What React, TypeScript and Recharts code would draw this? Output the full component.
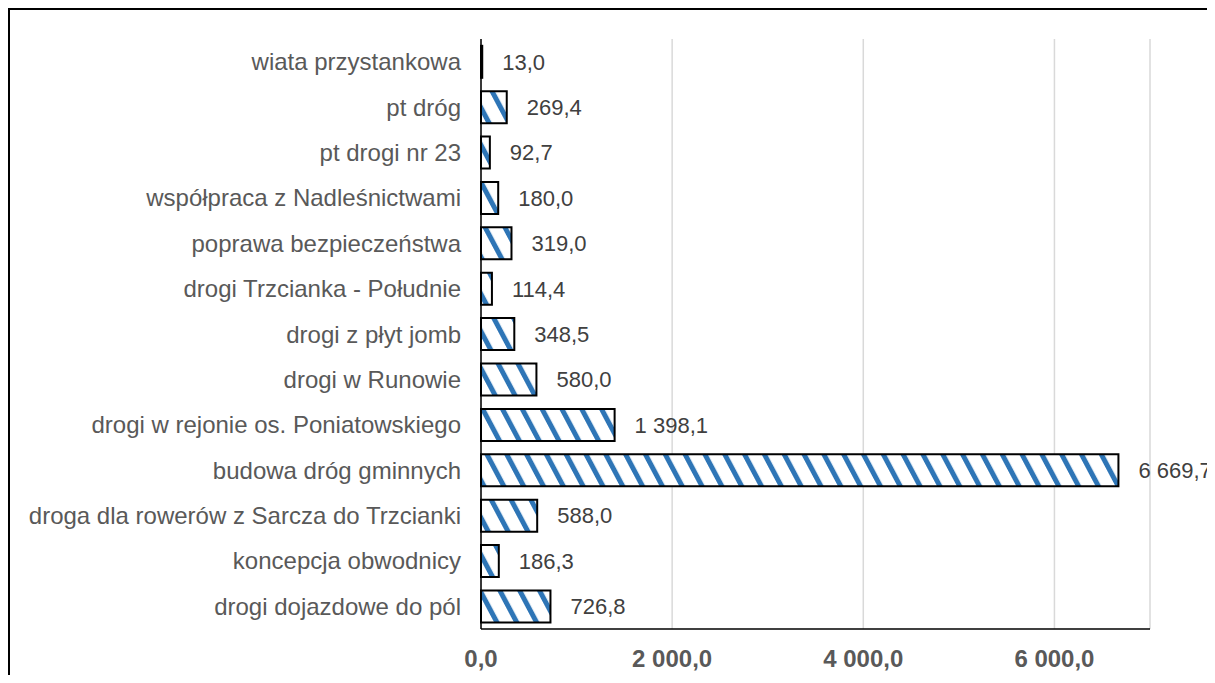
import {
  BarChart,
  Bar,
  XAxis,
  YAxis,
  CartesianGrid,
  LabelList,
} from 'recharts';

const categories = [
  'wiata przystankowa',
  'pt dróg',
  'pt drogi nr 23',
  'współpraca z Nadleśnictwami',
  'poprawa bezpieczeństwa',
  'drogi Trzcianka - Południe',
  'drogi z płyt jomb',
  'drogi w Runowie',
  'drogi w rejonie os. Poniatowskiego',
  'budowa dróg gminnych',
  'droga dla rowerów z Sarcza do Trzcianki',
  'koncepcja obwodnicy',
  'drogi dojazdowe do pól',
];

const values = [13.0, 269.4, 92.7, 180.0, 319.0, 114.4, 348.5, 580.0, 1398.1, 6669.7, 588.0, 186.3, 726.8];

const xTicks = [0, 2000, 4000, 6000];

const data = categories.map((name, i) => ({ name, value: values[i] }));

// 1398.1 -> "1 398,1"
const fmt = (v: number) => {
  const [int, dec] = Number(v).toFixed(1).split('.');
  return int.replace(/\B(?=(\d{3})+(?!\d))/g, ' ') + ',' + dec;
};

const font = '"Liberation Sans", Arial, sans-serif';

export default function App() {
  return (
    <div
      style={{
        width: 1207,
        height: 667,
        boxSizing: 'border-box',
        borderTop: '2px solid #000',
        borderLeft: '2px solid #000',
        overflow: 'hidden',
        fontFamily: font,
      }}
    >
      <BarChart
        width={1205}
        height={665}
        layout="vertical"
        data={data}
        margin={{ top: 29, right: 65, bottom: 0, left: 0 }}
        barCategoryGap="15%"
      >
        <defs>
          <pattern
            id="stripes"
            patternUnits="userSpaceOnUse"
            width={17.5}
            height={17.5}
            patternTransform="rotate(-28)"
          >
            <rect x={0} y={0} width={17.5} height={17.5} fill="#fff" />
            <rect x={0} y={0} width={5} height={17.5} fill="#2E75B6" />
          </pattern>
        </defs>
        <CartesianGrid horizontal={false} stroke="#D9D9D9" strokeWidth={1.5} />
        <XAxis
          type="number"
          domain={[0, 7000]}
          ticks={xTicks}
          tickFormatter={fmt}
          tickLine={false}
          tickSize={0}
          tickMargin={21}
          height={46}
          axisLine={{ stroke: '#000', strokeWidth: 1.5 }}
          tick={{ fill: '#595959', fontSize: 24, fontWeight: 700, fontFamily: font }}
        />
        <YAxis
          type="category"
          dataKey="name"
          width={471}
          interval={0}
          tickLine={false}
          tickSize={0}
          tickMargin={20}
          axisLine={{ stroke: '#000', strokeWidth: 1.5 }}
          tick={{ fill: '#595959', fontSize: 24, fontFamily: font }}
        />
        <Bar
          dataKey="value"
          fill="url(#stripes)"
          stroke="#000"
          strokeWidth={2}
          isAnimationActive={false}
        >
          <LabelList
            dataKey="value"
            position="right"
            offset={20}
            formatter={(v: any) => fmt(v)}
            style={{ fill: '#404040', fontSize: 22, fontFamily: font }}
          />
        </Bar>
      </BarChart>
    </div>
  );
}
